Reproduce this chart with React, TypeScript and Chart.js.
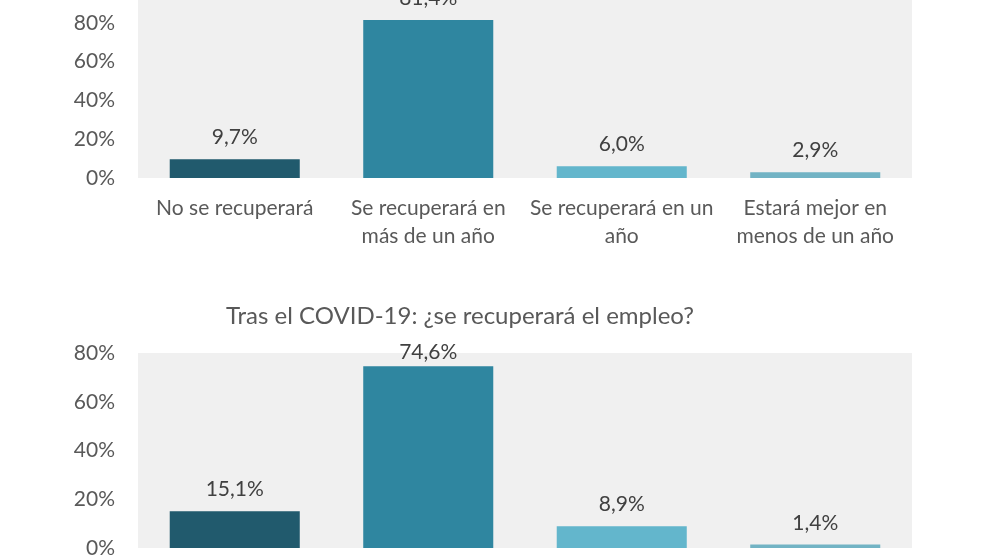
import React, { useEffect, useRef } from "react";
import { Chart, registerables } from "chart.js";

Chart.register(...registerables);

const categories: string[][] = [
  ["No se recuperará"],
  ["Se recuperará en", "más de un año"],
  ["Se recuperará en un", "año"],
  ["Estará mejor en", "menos de un año"],
];
const economyValues = [9.7, 81.4, 6.0, 2.9];
const employmentValues = [15.1, 74.6, 8.9, 1.4];
const barColors = ["#215a6d", "#2f86a0", "#63b6cc", "#72b3c4"];
const economyAxisMax = 100;
const employmentAxisMax = 80;
const axisStep = 20;
const employmentTitle = "Tras el COVID-19: ¿se recuperará el empleo?";

const FONT = "Lato, 'Open Sans', sans-serif";
const TEXT = "#595959";

const fmt = (v: number) => v.toFixed(1).replace(".", ",") + "%";

const decorPlugin = {
  id: "decor",
  beforeDatasetsDraw(chart: any) {
    const { ctx, chartArea } = chart;
    ctx.save();
    ctx.fillStyle = "#f0f0f0";
    ctx.fillRect(chartArea.left, chartArea.top, chartArea.right - chartArea.left, chartArea.bottom - chartArea.top);
    ctx.restore();
  },
  afterDatasetsDraw(chart: any, _a: any, opts: any) {
    const { ctx, chartArea } = chart;
    const meta = chart.getDatasetMeta(0);
    const data = chart.data.datasets[0].data as number[];
    ctx.save();
    ctx.font = `21px ${FONT}`;
    ctx.fillStyle = "#404040";
    ctx.textAlign = "center";
    ctx.textBaseline = "alphabetic";
    meta.data.forEach((bar: any, i: number) => {
      const y = Math.max(bar.y - 15, chartArea.top + 6);
      ctx.fillText(fmt(data[i]), bar.x, y);
    });
    if (opts && opts.title) {
      ctx.font = `24px ${FONT}`;
      ctx.fillStyle = TEXT;
      ctx.textBaseline = "middle";
      ctx.fillText(opts.title, 460, chartArea.top - 37);
    }
    ctx.restore();
  },
};

function makeConfig(values: number[], max: number, padTop: number, xHeight: number, title?: string): any {
  return {
    type: "bar",
    data: {
      labels: categories,
      datasets: [
        {
          data: values,
          backgroundColor: barColors,
          borderWidth: 0,
          categoryPercentage: 1,
          barPercentage: 0.672,
        },
      ],
    },
    options: {
      responsive: false,
      animation: false,
      layout: { padding: { top: padTop, right: 80, left: 0, bottom: 0 } },
      plugins: {
        legend: { display: false },
        tooltip: { enabled: false },
        title: { display: false },
        decor: { title },
      },
      scales: {
        x: {
          grid: { display: false, drawTicks: false },
          border: { display: false },
          ticks: { color: TEXT, font: { family: FONT, size: 21, lineHeight: 1.35 }, padding: 16, maxRotation: 0, autoSkip: false },
          afterFit: (s: any) => { s.height = xHeight; },
        },
        y: {
          min: 0,
          max,
          grid: { display: false, drawTicks: false },
          border: { display: false },
          ticks: { stepSize: axisStep, color: TEXT, font: { family: FONT, size: 21 }, padding: 23, callback: (v: any) => v + "%" },
          afterFit: (s: any) => { s.width = 138; },
        },
      },
    },
    plugins: [decorPlugin],
  };
}

function BarChart({ values, max, top, padTop, xHeight, title }: any) {
  const ref = useRef<HTMLCanvasElement>(null);
  useEffect(() => {
    if (!ref.current) return;
    const chart = new Chart(ref.current, makeConfig(values, max, padTop, xHeight, title));
    return () => chart.destroy();
  }, []);
  return (
    <div style={{ position: "absolute", left: 0, top, width: 992, height: 330 }}>
      <canvas ref={ref} width={992} height={330} style={{ width: 992, height: 330, display: "block" }} />
    </div>
  );
}

export default function App() {
  return (
    <div style={{ position: "fixed", inset: 0, overflow: "hidden", background: "#ffffff" }}>
      <BarChart values={economyValues} max={economyAxisMax} top={-60} padTop={44} xHeight={92} />
      <BarChart values={employmentValues} max={employmentAxisMax} top={290} padTop={63} xHeight={72} title={employmentTitle} />
    </div>
  );
}
